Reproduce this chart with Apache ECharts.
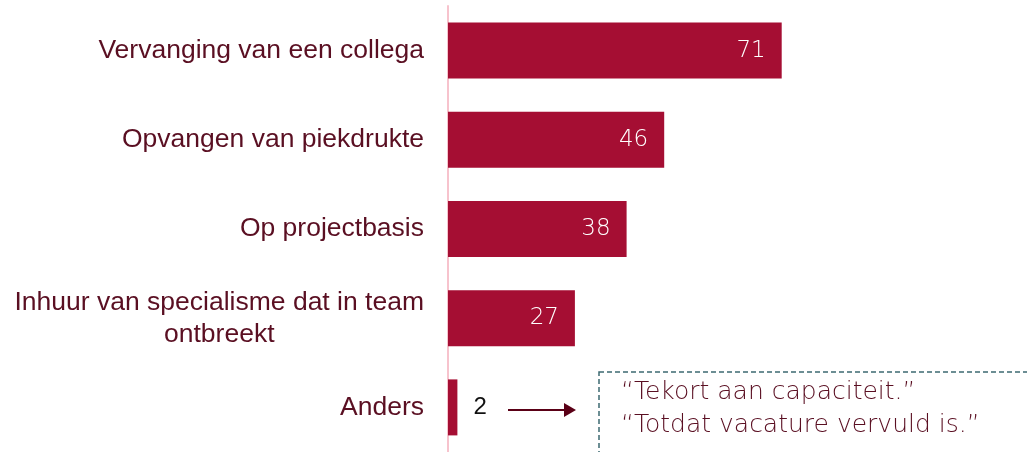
<!DOCTYPE html>
<html>
<head>
<meta charset="utf-8">
<script src="https://cdn.jsdelivr.net/npm/echarts@6/dist/echarts.min.js"></script>
<style>
  html, body { margin: 0; padding: 0; background: #fff; }
  #container { width: 1027px; height: 452px; }
</style>
</head>
<body>
<div id="container"></div>
<script>
var categories = [
    'Vervanging van een collega',
    'Opvangen van piekdrukte',
    'Op projectbasis',
    'Inhuur van specialisme dat in team\nontbreekt',
    'Anders'
];
var values = [71, 46, 38, 27, 2];
var quotes = ['\u201cTekort aan capaciteit.\u201d', '\u201cTotdat vacature vervuld is.\u201d'];

var barColor = '#a50e33';
var textColor = '#5a0f22';

var myChart = echarts.init(document.getElementById('container'));

var option = {
    animation: false,
    grid: {
        left: 448,
        top: 6,
        width: 564,
        height: 449,
        containLabel: false
    },
    xAxis: {
        type: 'value',
        min: 0,
        max: 120,
        show: false
    },
    yAxis: {
        type: 'category',
        inverse: true,
        data: categories,
        axisLine: { show: true, lineStyle: { color: '#f7c3cd', width: 2 } },
        axisTick: { show: false },
        axisLabel: {
            margin: 24,
            align: 'right',
            formatter: function (v) {
                return v.split('\n').map(function (s) { return '{c|' + s + '}'; }).join('\n');
            },
            rich: {
                c: {
                    align: 'center',
                    color: textColor,
                    fontFamily: 'Liberation Sans, Arial, sans-serif',
                    fontSize: 26.5,
                    lineHeight: 32
                }
            }
        }
    },
    series: [{
        type: 'bar',
        barWidth: 56,
        data: values.map(function (v, i) {
            var item = { value: v, itemStyle: { color: barColor } };
            if (i === values.length - 1) {
                item.label = {
                    position: 'right',
                    distance: 16,
                    color: '#111',
                    fontFamily: 'Liberation Sans, Arial, sans-serif',
                    fontSize: 24,
                    fontWeight: 'normal'
                };
            }
            return item;
        }),
        label: {
            show: true,
            position: 'insideRight',
            distance: 16,
            color: '#ffffff',
            fontFamily: '"DejaVu Sans", sans-serif',
            fontWeight: 200,
            fontSize: 23
        }
    }],
    graphic: [
        {
            type: 'line',
            shape: { x1: 508, y1: 410, x2: 566, y2: 410 },
            style: { stroke: '#5a0016', lineWidth: 2 }
        },
        {
            type: 'polygon',
            shape: { points: [[564, 403], [576, 410], [564, 417]] },
            style: { fill: '#5a0016' }
        },
        {
            type: 'rect',
            shape: { x: 599, y: 372, width: 450, height: 100 },
            style: { fill: 'none', stroke: '#3d6a72', lineWidth: 1.5, lineDash: [5, 3] }
        },
        {
            type: 'text',
            left: 621,
            top: 376,
            style: {
                text: quotes.join('\n'),
                fill: textColor,
                font: '200 25px "DejaVu Sans", sans-serif',
                lineHeight: 33
            }
        }
    ]
};

myChart.setOption(option, true);
window.addEventListener('resize', function () {
    myChart.resize();
});
</script>
</body>
</html>
